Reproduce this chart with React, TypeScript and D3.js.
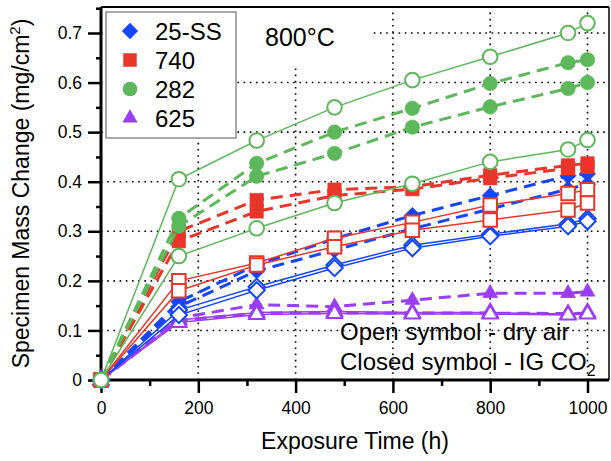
import React, { useEffect, useRef } from 'react';
import * as d3 from 'd3';

// exposure times (h)
const times = [0, 160, 320, 480, 640, 800, 960, 1000];

// 25-SS
const ss25AirA = [0, 0.141, 0.188, 0.232, 0.272, 0.294, 0.315, 0.326];
const ss25AirB = [0, 0.131, 0.181, 0.226, 0.266, 0.29, 0.31, 0.32];
const ss25CO2A = [0, 0.158, 0.232, 0.285, 0.332, 0.372, 0.412, 0.416];
const ss25CO2B = [0, 0.148, 0.22, 0.262, 0.305, 0.345, 0.385, 0.395];

// 740
const a740AirA = [0, 0.2, 0.236, 0.286, 0.318, 0.353, 0.376, 0.384];
const a740AirB = [0, 0.18, 0.232, 0.269, 0.302, 0.323, 0.343, 0.357];
const a740CO2A = [0, 0.3, 0.363, 0.384, 0.39, 0.413, 0.433, 0.437];
const a740CO2B = [0, 0.28, 0.34, 0.372, 0.385, 0.407, 0.427, 0.43];

// 282
const a282AirA = [0, 0.405, 0.483, 0.55, 0.605, 0.652, 0.7, 0.72];
const a282AirB = [0, 0.25, 0.306, 0.357, 0.396, 0.44, 0.465, 0.484];
const a282CO2A = [0, 0.326, 0.437, 0.5, 0.548, 0.598, 0.64, 0.646];
const a282CO2B = [0, 0.31, 0.411, 0.457, 0.51, 0.551, 0.588, 0.6];

// 625
const a625AirA = [0, 0.121, 0.136, 0.138, 0.136, 0.136, 0.133, 0.136];
const a625AirB = [0, 0.116, 0.132, 0.134, 0.133, 0.133, 0.131, 0.133];
const a625CO2A = [0, 0.125, 0.152, 0.148, 0.161, 0.175, 0.175, 0.178];
const a625CO2B = [0, 0.12, 0.135, 0.135, 0.135, 0.135, 0.134, 0.135];

const legendNames = ['25-SS', '740', '282', '625'];
const xTicks = [0, 200, 400, 600, 800, 1000];
const yTicks = [0, 0.1, 0.2, 0.3, 0.4, 0.5, 0.6, 0.7];

const FONT = 'Liberation Sans, Arial, Helvetica, sans-serif';

const colors: Record<string, string> = {
  '25-SS': '#1446ff',
  '740': '#e8362b',
  '282': '#5cb85a',
  '625': '#9b3cf6',
};
const shapes: Record<string, string> = {
  '25-SS': 'diamond',
  '740': 'square',
  '282': 'circle',
  '625': 'triangle',
};

const groups = [
  { name: '625', air: [a625AirA, a625AirB], co2: [a625CO2A, a625CO2B] },
  { name: '25-SS', air: [ss25AirA, ss25AirB], co2: [ss25CO2A, ss25CO2B] },
  { name: '740', air: [a740AirA, a740AirB], co2: [a740CO2A, a740CO2B] },
  { name: '282', air: [a282AirA, a282AirB], co2: [a282CO2A, a282CO2B] },
];

const symbolPath = (shape: string) => {
  if (shape === 'circle') return d3.symbol(d3.symbolCircle, Math.PI * 7.3 * 7.3)();
  if (shape === 'square') return d3.symbol(d3.symbolSquare, 13.5 * 13.5)();
  if (shape === 'diamond') return d3.symbol(d3.symbolSquare, 11.5 * 11.5)();
  return d3.symbol(d3.symbolTriangle, 100)();
};
const rotation = (shape: string) => (shape === 'diamond' ? ' rotate(45)' : '');

const App = () => {
  const ref = useRef<SVGSVGElement>(null);

  useEffect(() => {
    if (!ref.current) return;
    const svg = d3.select(ref.current);
    svg.selectAll('*').remove();

    const x = d3.scaleLinear().domain([0, 1000]).range([101, 587.5]);
    const y = d3.scaleLinear().domain([0, 0.7]).range([380, 33]);
    const xEnd = x.invert(609);
    const yEnd = y.invert(7);

    // dotted grid
    const grid = svg.append('g')
      .attr('stroke', '#000')
      .attr('stroke-width', 1.6)
      .attr('stroke-dasharray', '1.6,4.6');
    grid.selectAll('line.h')
      .data(yTicks.slice(1))
      .enter()
      .append('line')
      .attr('x1', x(0)).attr('x2', x(xEnd))
      .attr('y1', d => y(d)).attr('y2', d => y(d));
    grid.selectAll('line.v')
      .data(xTicks.slice(1))
      .enter()
      .append('line')
      .attr('x1', d => x(d)).attr('x2', d => x(d))
      .attr('y1', y(0)).attr('y2', y(yEnd));

    // white patch behind the temperature label
    svg.append('rect')
      .attr('x', 236).attr('y', y(yEnd) + 1)
      .attr('width', 135).attr('height', 60)
      .attr('fill', '#fff');

    // frame
    svg.append('line')
      .attr('x1', x(0)).attr('x2', x(xEnd))
      .attr('y1', y(yEnd)).attr('y2', y(yEnd))
      .attr('stroke', '#000').attr('stroke-width', 2);
    svg.append('line')
      .attr('x1', x(xEnd)).attr('x2', x(xEnd))
      .attr('y1', y(yEnd)).attr('y2', y(0))
      .attr('stroke', '#000').attr('stroke-width', 1.5);

    // axes
    const xAxis = svg.append('g').attr('transform', `translate(0,${y(0)})`);
    xAxis.call(d3.axisBottom(x).tickValues(d3.range(100, xEnd, 200)).tickSize(6).tickFormat(() => ''));
    xAxis.call(g => g.selectAll('.tick line').attr('stroke-width', 2.5));
    const xMajor = svg.append('g').attr('transform', `translate(0,${y(0)})`);
    xMajor.call(d3.axisBottom(x).tickValues(xTicks).tickSize(13).tickPadding(9).tickFormat(d3.format('d')));
    xMajor.selectAll('.tick line').attr('stroke-width', 2.5);
    xMajor.selectAll('text').attr('font-size', 17.5).attr('font-family', FONT).attr('fill', '#000');

    const yAxis = svg.append('g').attr('transform', `translate(${x(0)},0)`);
    yAxis.call(d3.axisLeft(y).tickValues(d3.range(0.05, yEnd, 0.1)).tickSize(5).tickFormat(() => ''));
    yAxis.selectAll('.tick line').attr('stroke-width', 2.5);
    const yMajor = svg.append('g').attr('transform', `translate(${x(0)},0)`);
    yMajor.call(d3.axisLeft(y).tickValues(yTicks).tickSize(13).tickPadding(6).tickFormat(d => (d === 0 ? '0' : d3.format('.1f')(d as number))));
    yMajor.selectAll('.tick line').attr('stroke-width', 2.5);
    yMajor.selectAll('text').attr('font-size', 17.5).attr('font-family', FONT).attr('fill', '#000');
    [xAxis, xMajor, yAxis, yMajor].forEach(g => g.select('.domain').remove());

    svg.append('line')
      .attr('x1', x(0) - 1.5).attr('x2', x(xEnd))
      .attr('y1', y(0)).attr('y2', y(0))
      .attr('stroke', '#000').attr('stroke-width', 3);
    svg.append('line')
      .attr('x1', x(0)).attr('x2', x(0))
      .attr('y1', y(0) + 1.5).attr('y2', y(yEnd))
      .attr('stroke', '#000').attr('stroke-width', 3);

    // data
    const line = d3.line<number>()
      .x((_, i) => x(times[i]))
      .y(d => y(d));
    const plot = svg.append('g');
    groups.forEach(gr => {
      const c = colors[gr.name];
      const shape = shapes[gr.name];
      const path = symbolPath(shape);
      const draw = (vals: number[], open: boolean) => {
        plot.append('path')
          .attr('d', line(vals))
          .attr('fill', 'none')
          .attr('stroke', c)
          .attr('stroke-width', open ? 1.5 : 3)
          .attr('stroke-dasharray', open ? null : '12,7');
        plot.selectAll(null)
          .data(vals)
          .enter()
          .append('path')
          .attr('d', path)
          .attr('transform', (d, i) => `translate(${x(times[i])},${y(d)})${rotation(shape)}`)
          .attr('fill', open ? '#fff' : c)
          .attr('stroke', c)
          .attr('stroke-width', open ? 2 : 0.5);
      };
      gr.co2.forEach(v => draw(v, false));
      gr.air.forEach(v => draw(v, true));
    });

    // legend
    const legend = svg.append('g');
    legend.append('rect')
      .attr('x', 106).attr('y', 12).attr('width', 130).attr('height', 126)
      .attr('fill', '#fff').attr('stroke', '#555').attr('stroke-width', 1);
    legendNames.forEach((n, i) => {
      const cy = 31 + i * 29;
      legend.append('path')
        .attr('d', symbolPath(shapes[n]))
        .attr('transform', `translate(130,${cy})${rotation(shapes[n])}`)
        .attr('fill', colors[n]);
      legend.append('text')
        .attr('x', 155).attr('y', cy + 8.5)
        .attr('font-size', 24).attr('font-family', FONT)
        .text(n);
    });

    svg.append('text')
      .attr('x', 265).attr('y', 46)
      .attr('font-size', 25).attr('font-family', FONT)
      .text('800°C');

    svg.append('text')
      .attr('x', 340).attr('y', 340)
      .attr('font-size', 24).attr('font-family', FONT)
      .text('Open symbol - dry air');
    const t2 = svg.append('text')
      .attr('x', 340).attr('y', 370)
      .attr('font-size', 24).attr('font-family', FONT);
    t2.append('tspan').text('Closed symbol - IG CO');
    t2.append('tspan').attr('font-size', 16).attr('dy', 6).text('2');

    // axis titles
    svg.append('text')
      .attr('x', (x(0) + x(xEnd)) / 2).attr('y', 449)
      .attr('text-anchor', 'middle')
      .attr('font-size', 23).attr('font-family', FONT)
      .text('Exposure Time (h)');
    const yt = svg.append('text')
      .attr('transform', `translate(29,${(y(0) + y(yEnd)) / 2}) rotate(-90)`)
      .attr('text-anchor', 'middle')
      .attr('font-size', 23).attr('font-family', FONT);
    yt.append('tspan').text('Specimen Mass Change (mg/cm');
    yt.append('tspan').attr('font-size', 15).attr('dy', -9).text('2');
    yt.append('tspan').attr('dy', 9).text(')');
  }, []);

  return (
    <svg
      ref={ref}
      width={611}
      height={461}
      style={{ position: 'absolute', left: 0, top: 0, background: '#fff' }}
    />
  );
};

export default App;
